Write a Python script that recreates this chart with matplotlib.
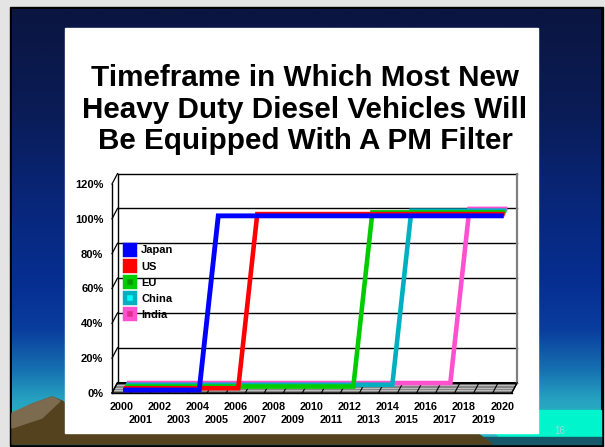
import numpy as np
import matplotlib
matplotlib.use('Agg')
import matplotlib.pyplot as plt
from matplotlib.patches import Polygon, Rectangle
from matplotlib.lines import Line2D
from matplotlib.colors import LinearSegmentedColormap

plt.rcParams['font.family'] = ['Liberation Sans', 'DejaVu Sans']
plt.rcParams['font.weight'] = 'bold'

TITLE_LINES = ['Timeframe in Which Most New',
               'Heavy Duty Diesel Vehicles Will',
               'Be Equipped With A PM Filter']

YEARS = [2000, 2001, 2002, 2003, 2004, 2005, 2006, 2007, 2008, 2009, 2010,
         2011, 2012, 2013, 2014, 2015, 2016, 2017, 2018, 2019, 2020]

# share of new HDD vehicles with PM filter (%)
JAPAN = [0, 0, 0, 0, 0, 100, 100, 100, 100, 100, 100,
         100, 100, 100, 100, 100, 100, 100, 100, 100, 100]
US = [0, 0, 0, 0, 0, 0, 0, 100, 100, 100, 100,
      100, 100, 100, 100, 100, 100, 100, 100, 100, 100]
EU = [0, 0, 0, 0, 0, 0, 0, 0, 0, 0, 0,
      0, 0, 100, 100, 100, 100, 100, 100, 100, 100]
CHINA = [0, 0, 0, 0, 0, 0, 0, 0, 0, 0, 0,
         0, 0, 0, 0, 100, 100, 100, 100, 100, 100]
INDIA = [0, 0, 0, 0, 0, 0, 0, 0, 0, 0, 0,
         0, 0, 0, 0, 0, 0, 0, 100, 100, 100]

SERIES = [JAPAN, US, EU, CHINA, INDIA]
NAMES = ['Japan', 'US', 'EU', 'China', 'India']
COLORS = ['#0000ff', '#ff0000', '#00cc00', '#00b0c0', '#ff50d0']
INNER = ['#0000ff', '#ff0000', '#009a00', '#00ffff', '#e0308f']

YTICKS = [0, 20, 40, 60, 80, 100, 120]
YLABELS = ['0%', '20%', '40%', '60%', '80%', '100%', '120%']

W, H = 605, 447
fig = plt.figure(figsize=(W / 100, H / 100), dpi=100)
fig.patch.set_facecolor('#e4e4e4')

# ---- slide background ----
bg = fig.add_axes([0, 0, 1, 1])
bg.add_patch(Rectangle((10, 7), 593, 439, color='black', zorder=0))
stops = [(9, '#0a1540'), (110, '#0a1c56'), (210, '#08277c'), (285, '#062f92'),
         (330, '#0a3d9e'), (370, '#1670b0'), (400, '#26a2c0'), (444, '#2cbcc8')]
cmap = LinearSegmentedColormap.from_list(
    'slide', [((y - 9) / 435.0, c) for y, c in stops])
bg.imshow(np.linspace(0, 1, 256).reshape(-1, 1), cmap=cmap,
          extent=(12, 601, 444, 9), aspect='auto', zorder=0.5)
bg.add_patch(Polygon([(470, 410), (601, 410), (601, 437), (500, 437)],
                     color='#00f5cc', zorder=1))
bg.add_patch(Rectangle((12, 437), 589, 7, color='#16586a', zorder=1))
bg.add_patch(Polygon([(12, 415), (30, 405), (52, 397), (62, 401), (80, 413),
                      (470, 428), (492, 444), (12, 444)], color='#54421f',
                     zorder=1))
bg.add_patch(Polygon([(12, 413), (30, 405), (52, 397), (60, 401), (42, 418),
                      (12, 428)], color='#7d6b50', zorder=1))
bg.add_patch(Rectangle((65, 28), 473, 405, color='white', zorder=2))
bg.set_xlim(0, W)
bg.set_ylim(H, 0)
bg.axis('off')

for i, line in enumerate(TITLE_LINES):
    fig.text(305 / W, 1 - (85.7 + 31.8 * i) / H, line, ha='center',
             va='baseline', fontsize=21.3, fontweight='bold')

fig.text(560 / W, 1 - 430.7 / H, '16', ha='center', va='center',
         fontsize=7, color='#a8d4d8', fontweight='normal')

# ---- chart ----
ax = fig.add_axes([112 / W, (H - 393) / H, 399.7 / W, 209 / H])
X0, X1 = 1999.5, 2020.5
ax.set_xlim(X0, X1)
ax.set_ylim(0, 120)
ax.patch.set_visible(False)
for s in ['top', 'right']:
    ax.spines[s].set_visible(False)
ax.spines['left'].set_linewidth(1.0)
ax.spines['bottom'].set_linewidth(1.0)

DX, DY = 0.29, 6.0  # depth of the pseudo 3d box

# floor
ax.add_patch(Polygon([(X0, 0), (X1, 0), (X1 + DX, DY), (X0 + DX, DY)],
                     facecolor='#858585', edgecolor='black', lw=0.8,
                     clip_on=False, zorder=1))
for f in (0.25, 0.5, 0.75):
    ax.plot([X0 + f * DX, X1 + f * DX], [f * DY, f * DY], color='#c8c8c8',
            lw=0.6, clip_on=False, zorder=1)
for b in np.arange(X0, X1 + 0.5, 1.0):
    ax.plot([b, b + DX], [0, DY], color='black', lw=0.8, clip_on=False,
            zorder=1)

# walls and gridlines
for v in YTICKS:
    ax.plot([X0 + DX, X1 + DX], [v + DY, v + DY], color='black', lw=1.0,
            clip_on=False, zorder=1)
    ax.plot([X0, X0 + DX], [v, v + DY], color='black', lw=0.9,
            clip_on=False, zorder=1)
ax.plot([X0 + DX, X0 + DX], [DY, 120 + DY], color='black', lw=1.0,
        clip_on=False, zorder=1)
ax.plot([X1 + DX, X1 + DX], [DY, 120 + DY], color='#808080', lw=1.6,
        clip_on=False, zorder=1)
ax.plot([X1, X1 + DX], [0, DY], color='black', lw=0.8, clip_on=False,
        zorder=1)

# series, back to front
years = np.array(YEARS, dtype=float)
for k in range(len(SERIES) - 1, -1, -1):
    frac = (3 + 1.75 * k) / 10.5
    ax.plot(years + frac * DX, np.array(SERIES[k]) + frac * DY,
            color=COLORS[k], lw=3.5 if k == 0 else 3.3,
            solid_joinstyle='miter', solid_capstyle='butt', clip_on=False,
            zorder=3 + (4 - k))

handles = [Line2D([], [], ls='', marker='s', ms=6.8, mfc=INNER[k],
                  mec=COLORS[k], mew=3.2) for k in range(len(NAMES))]
leg = ax.legend(handles, NAMES, loc='upper left', bbox_to_anchor=(0.03, 0.706),
                frameon=False, prop={'size': 8, 'weight': 'bold'},
                handlelength=1.0, handletextpad=0.55, labelspacing=0.55,
                borderpad=0, borderaxespad=0)
leg.set_zorder(10)

ax.set_yticks(YTICKS, YLABELS)
ax.tick_params(axis='y', length=0, pad=6.3, labelsize=8)
ax.set_xticks(YEARS[::2], [str(y) for y in YEARS[::2]])
ax.set_xticks(YEARS[1::2], [str(y) for y in YEARS[1::2]], minor=True)
ax.tick_params(axis='x', which='major', length=0, pad=6.5, labelsize=7.8)
ax.tick_params(axis='x', which='minor', length=0, pad=15.6, labelsize=7.8)

fig.savefig('out.png', dpi=100)
